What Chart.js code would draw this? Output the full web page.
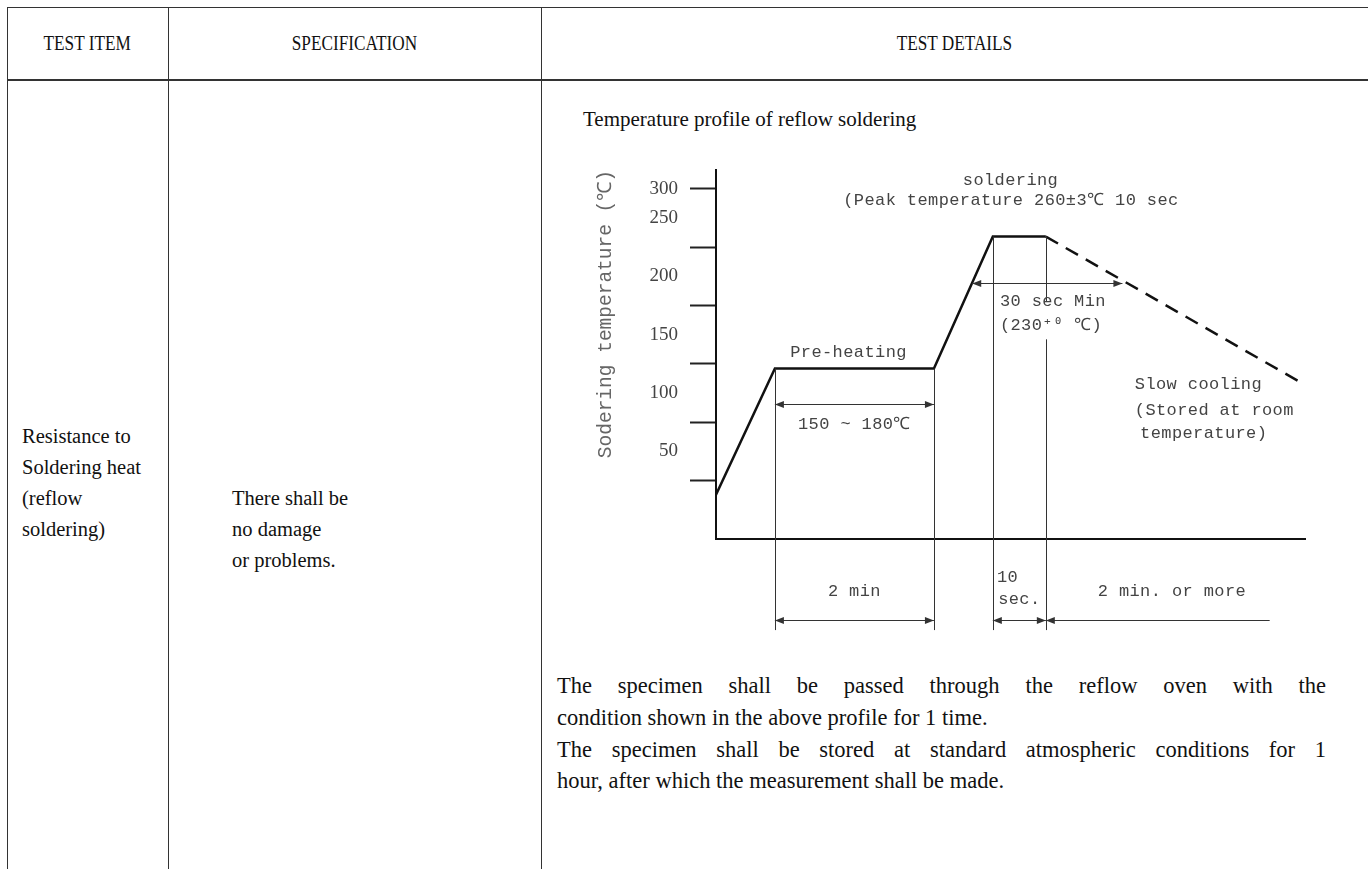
<!DOCTYPE html>
<html>
<head>
<meta charset="utf-8">
<script src="https://cdn.jsdelivr.net/npm/chart.js@4.4.0/dist/chart.umd.min.js"></script>
<style>
  body { margin: 0; background: #fff; width: 1368px; height: 869px; overflow: hidden; position: relative;
         font-family: "Liberation Serif", "Times New Roman", serif; color: #111; }
  .ln { position: absolute; background: #333; }
  .hd { position: absolute; top: 7px; height: 73px; display: flex; align-items: center; justify-content: center; font-size: 21px; }
  .hd span { display: inline-block; transform: scaleX(0.82); }
  .txt { position: absolute; font-size: 20.5px; line-height: 31px; white-space: nowrap; }
  .par { position: absolute; left: 557px; width: 769px; font-size: 22.5px; line-height: 32px; white-space: nowrap; }
  .jl { text-align: justify; text-align-last: justify; }
  #box { position: absolute; left: 560px; top: 160px; width: 780px; height: 490px; }
</style>
</head>
<body>
<div class="ln" style="left:7px;top:7px;width:1361px;height:1px"></div>
<div class="ln" style="left:7px;top:79px;width:1361px;height:2px"></div>
<div class="ln" style="left:7px;top:7px;width:1px;height:862px"></div>
<div class="ln" style="left:168px;top:7px;width:1px;height:862px"></div>
<div class="ln" style="left:541px;top:7px;width:1px;height:862px"></div>

<div class="hd" style="left:7px;width:161px"><span>TEST ITEM</span></div>
<div class="hd" style="left:168px;width:373px"><span>SPECIFICATION</span></div>
<div class="hd" style="left:541px;width:827px"><span>TEST DETAILS</span></div>

<div class="txt" style="left:22px;top:421px">Resistance to<br>Soldering heat<br>(reflow<br>soldering)</div>
<div class="txt" style="left:232px;top:483px">There shall be<br>no damage<br>or problems.</div>

<div class="txt" style="left:583px;top:104px;font-size:21px">Temperature profile of reflow soldering</div>

<div class="par jl" style="top:670px">The specimen shall be passed through the reflow oven with the</div>
<div class="par" style="top:702px">condition shown in the above profile for 1 time.</div>
<div class="par jl" style="top:734px">The specimen shall be stored at standard atmospheric conditions for 1</div>
<div class="par" style="top:765px">hour, after which the measurement shall be made.</div>

<div id="box"><canvas id="perfil" width="780" height="490"></canvas></div>

<script>
// Perfil de temperatura (tiempo esquemático, temperatura en ℃)
const profileTime = [0, 10, 37, 47, 56];
const profileTemp = [38, 146, 146, 259, 259];
const coolingTime = [56, 100];
const coolingTemp = [259, 132];

// Eje Y: marcas y etiquetas tal como aparecen en el dibujo
const yTickMarks = [50, 100, 150, 200, 250, 300];
const yTickLabels = ['50', '100', '150', '200', '250', '300'];
const yLabelAt = [75, 125, 175, 225, 275, 300];
const yTitle = 'Sodering temperature (℃)';

// Líneas guía verticales: [tiempo, desde, hasta]
const guides = [[10, 146, -78], [37, 146, -78], [47, 259, -78], [56, 259, 203], [56, 171, -78]];
// Flechas: [desde, hasta, temperatura, punta izq, punta der]
const arrows = [[10, 37, 116, true, true], [43.5, 69, 219, true, true],
                [10, 37, -69, true, true], [47, 56, -69, true, true], [56, 94, -69, true, false]];
// Textos del dibujo: [texto, tiempo, temperatura, alineación]
const notes = [
  ['soldering', 50, 307, 'center'],
  ['(Peak temperature 260±3℃ 10 sec', 21.6, 290, 'left'],
  ['Pre-heating', 12.6, 160, 'left'],
  ['150 ~ 180℃', 23.5, 98, 'center'],
  ['30 sec Min', 48.2, 203, 'left'],
  ['(230⁺⁰ ℃)', 48.2, 183, 'left'],
  ['Slow cooling', 71.1, 132, 'left'],
  ['(Stored at room', 71.1, 110, 'left'],
  ['temperature)', 72, 90, 'left'],
  ['2 min', 23.5, -45, 'center'],
  ['10', 47.7, -33, 'left'],
  ['sec.', 47.9, -52, 'left'],
  ['2 min. or more', 77.4, -45, 'center']
];

function flecha(ctx, x1, x2, y, left, right) {
  ctx.beginPath();
  ctx.moveTo(x1, y); ctx.lineTo(x2, y); ctx.stroke();
  ctx.beginPath();
  if (left) { ctx.moveTo(x1, y); ctx.lineTo(x1 + 9, y - 3.5); ctx.lineTo(x1 + 9, y + 3.5); ctx.closePath(); }
  if (right) { ctx.moveTo(x2, y); ctx.lineTo(x2 - 9, y - 3.5); ctx.lineTo(x2 - 9, y + 3.5); ctx.closePath(); }
  ctx.fill();
}

const notasPlugin = {
  id: 'notas',
  afterDatasetsDraw(chart) {
    const ctx = chart.ctx;
    const sx = chart.scales.x, sy = chart.scales.y;
    ctx.save();
    ctx.strokeStyle = '#333';
    ctx.fillStyle = '#333';
    ctx.lineWidth = 1;
    guides.forEach(g => {
      const x = Math.round(sx.getPixelForValue(g[0])) + 0.5;
      ctx.beginPath();
      ctx.moveTo(x, sy.getPixelForValue(g[1]));
      ctx.lineTo(x, sy.getPixelForValue(g[2]));
      ctx.stroke();
    });
    arrows.forEach(a => {
      flecha(ctx, sx.getPixelForValue(a[0]), sx.getPixelForValue(a[1]),
             Math.round(sy.getPixelForValue(a[2])) + 0.5, a[3], a[4]);
    });
    ctx.fillStyle = '#444';
    ctx.font = '17px "Liberation Mono", "DejaVu Sans Mono", monospace';
    ctx.letterSpacing = '0.4px';
    ctx.textBaseline = 'middle';
    notes.forEach(n => {
      ctx.textAlign = n[3];
      ctx.fillText(n[0], sx.getPixelForValue(n[1]), sy.getPixelForValue(n[2]));
    });
    ctx.restore();
  }
};

new Chart(document.getElementById('perfil'), {
  type: 'line',
  data: {
    datasets: [{
      data: profileTime.map((t, i) => ({ x: t, y: profileTemp[i] })),
      borderColor: '#111',
      borderWidth: 2.5,
      pointRadius: 0,
      tension: 0
    }, {
      data: coolingTime.map((t, i) => ({ x: t, y: coolingTemp[i] })),
      borderColor: '#111',
      borderWidth: 2.5,
      borderDash: [14, 9],
      pointRadius: 0,
      tension: 0
    }]
  },
  options: {
    responsive: false,
    animation: false,
    devicePixelRatio: 1,
    layout: { padding: { top: 10, right: 35, left: 0, bottom: 0 } },
    plugins: { legend: { display: false }, tooltip: { enabled: false } },
    scales: {
      x: {
        type: 'linear', min: 0, max: 100,
        grid: { display: false },
        ticks: { display: false },
        border: { display: true, color: '#111', width: 2 },
        afterFit: s => { s.height = 111; s.paddingLeft = 0; s.paddingRight = 0; }
      },
      y: {
        type: 'linear', min: 0, max: 316,
        afterBuildTicks: s => {
          const vals = [...new Set(yTickMarks.concat(yLabelAt))].sort((a, b) => a - b);
          s.ticks = vals.map(v => ({ value: v }));
        },
        afterFit: s => { s.width = 156; s.paddingTop = 0; s.paddingBottom = 0; },
        grid: {
          drawOnChartArea: false,
          drawTicks: true,
          tickLength: 26,
          tickWidth: 2,
          tickColor: c => yTickMarks.includes(c.tick && c.tick.value) ? '#222' : 'rgba(0,0,0,0)'
        },
        border: { display: true, color: '#111', width: 2 },
        ticks: {
          autoSkip: false,
          padding: 12,
          color: '#444',
          font: { family: '"Liberation Serif", serif', size: 19 },
          callback: v => { const i = yLabelAt.indexOf(v); return i >= 0 ? yTickLabels[i] : ''; }
        },
        title: {
          display: true,
          text: yTitle,
          align: 'end',
          color: '#666',
          font: { family: '"Liberation Mono", monospace', size: 19.5 },
          padding: { top: 34, bottom: 0 }
        }
      }
    }
  },
  plugins: [notasPlugin]
});
</script>
</body>
</html>
